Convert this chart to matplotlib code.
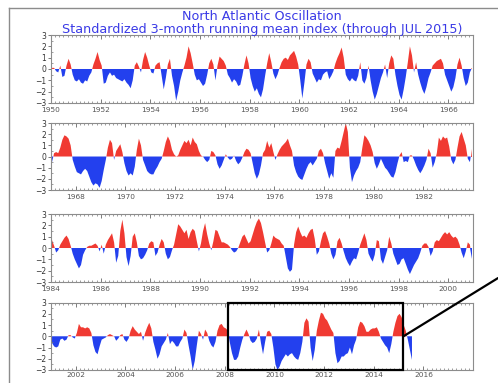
import numpy as np
import matplotlib
matplotlib.use("Agg")
import matplotlib.pyplot as plt
from matplotlib.patches import Rectangle, ConnectionPatch
from matplotlib.lines import Line2D
from matplotlib.ticker import MultipleLocator

# standardized 3-month running mean NAO index, monthly
nao_1950 = [0.1, 0.1, -0.2, -0.3, 0.3, -0.7, -0.6, 0.3, 0.9, 0.4,
            -0.5, -1.0, -1.1, -0.9, -1.2, -1.3, -1.0, -1.1, -0.6, -0.3,
            0.4, 0.9, 1.5, 0.8, 0.3, -1.3, -1.2, -0.6, -0.3, -0.6,
            -0.5, -0.8, -0.9, -1.0, -1.1, -0.9, -1.2, -1.4, -1.7, -1.0,
            0.3, 0.6, 0.2, -0.3, 0.8, 1.5, 1.0, 0.3, -0.3, -0.4,
            0.3, 0.5, 0.6, -0.6, -1.8, -0.8, 0.4, 0.9, -0.6, -1.5,
            -2.8, -2.0, -1.0, -0.3, 0.3, 1.0, 2.0, 1.4, 0.5, -0.5,
            -1.0, -0.9, -1.2, -1.5, -1.3, -0.5, 0.5, 0.9, 0.4, -1.0,
            0.3, 1.1, 0.9, 0.7, 0.3, -0.5, -0.8, -1.2, -0.9, -1.1,
            -1.5, -1.4, -0.6, 0.4, 1.2, 0.5, -0.8, -1.5, -2.0, -1.7,
            -2.2, -2.5, -1.8, -0.6, 0.5, 1.4, 0.6, -0.4, -0.9, -0.5,
            0.1, 0.6, 0.9, 1.0, 0.8, 1.2, 1.4, 1.6, 1.1, 0.4,
            -1.0, -2.6, -1.2, 0.4, 0.9, 0.6, -0.4, -0.8, -1.2, -0.9,
            -1.0, -0.5, -0.3, -0.2, -0.9, -0.6, -0.2, 0.5, 1.0, 1.4,
            1.9, 1.0, -0.5, -0.9, -1.1, -0.8, -1.0, -1.1, -0.6, 0.6,
            -1.0, -1.3, -0.8, 0.3, -1.0, -2.0, -2.7, -2.2, -1.5, -0.8,
            -0.3, 0.4, -0.8, 0.5, 1.2, 0.9, -0.5, -1.5, -2.3, -2.7,
            -1.8, -0.7, 0.6, 2.0, 1.2, -0.3, 0.6, -0.5, -1.2, -1.8,
            -2.2, -1.6, -0.8, -0.3, 0.3, 0.5, 0.7, 0.8, 0.9, 0.5,
            -0.5, -1.0, -1.5, -2.0, -1.6, -0.8, 0.4, 1.0, 0.3, -0.8,
            -1.5, -1.2, -0.3, 0.1]

nao_1967 = [-0.5, 0.3, 0.4, 0.3, 0.8, 1.5, 1.9, 1.8, 1.6, 1.0,
            -0.3, -0.9, -1.4, -1.5, -1.6, -1.3, -1.1, -1.3, -1.8, -2.3,
            -2.6, -2.4, -2.5, -2.8, -2.2, -1.2, -0.3, 0.8, 1.5, 1.2,
            -0.3, 0.5, 0.8, 1.1, 0.4, -0.6, -1.3, -1.7, -1.5, -1.7,
            -0.9, 0.6, 1.6, 1.0, -0.3, -0.8, -1.3, -1.5, -1.6, -1.6,
            -1.2, -0.9, -0.5, -0.2, 0.5, 1.3, 1.8, 1.4, 0.6, 0.2,
            0.0, 0.1, 0.6, 1.0, 1.4, 1.2, 1.5, 1.0, 1.7, 1.3,
            1.1, 0.5, 0.1, 0.0, -0.3, -0.5, -0.3, 0.5, 0.4, 0.1,
            -0.7, -1.1, -0.8, -0.3, 0.2, -0.1, -0.3, -0.2, 0.1, -0.4,
            -0.7, -0.5, -0.1, 0.4, 0.7, 0.6, 0.3, -0.6, -1.5, -2.0,
            -1.6, -0.8, 0.3, 0.6, 1.4, 0.8, 1.2, 0.4, -0.3, 0.2,
            0.6, 0.9, 1.1, 1.3, 1.6, 1.0, 0.5, -0.8, -1.4, -1.8,
            -2.0, -2.1, -1.6, -1.1, -0.7, -0.5, -0.8, -0.5, -0.2, 0.5,
            0.7, 0.3, -0.6, -1.3, -2.0, -1.5, -1.9, 0.5, 0.8, 0.7,
            1.4, 2.2, 3.0, 2.2, -1.0, -2.3, -1.7, -1.3, -1.0, -0.5,
            0.8, 1.9, 1.7, 1.4, 1.0, 0.4, -0.6, -1.1, -0.7, -0.2,
            -0.6, -1.0, -1.2, -1.5, -1.8, -1.9, -1.4, -0.6, 0.1, 0.4,
            -0.5, -0.4, -0.5, 0.1, 0.1, -0.3, -0.8, -1.2, -1.5, -1.2,
            -0.8, -0.3, 0.7, 0.3, -1.0, -0.5, 0.3, 1.7, 1.4, 1.8,
            1.6, 1.7, 0.9, -0.3, -0.7, -0.3, 0.8, 1.8, 2.2, 1.6,
            1.0, -0.2, -0.5, 0.7]

nao_1984 = [0.7, 0.2, -0.4, -0.2, 0.3, 0.6, 0.9, 1.1, 0.8, 0.2,
            -0.5, -1.0, -1.4, -1.8, -1.5, -0.6, -0.2, 0.1, 0.2, 0.2,
            0.3, 0.4, 0.2, -0.3, 0.3, -0.5, 0.3, 0.7, 1.0, 1.3,
            0.5, -1.3, -0.7, 1.5, 2.5, 1.3, -0.8, -1.6, -0.7, 1.0,
            1.3, 0.5, -0.7, -1.0, -0.9, -0.6, -0.2, 0.4, 0.6, 0.5,
            -0.7, -0.4, 0.3, 0.8, 0.5, -0.5, -1.0, -0.8, -0.2, 0.3,
            1.2, 2.1, 1.9, 1.6, 1.3, 1.6, 0.8, 1.4, 1.7, 1.5,
            0.6, -0.3, 0.4, 1.5, 2.2, 1.2, 0.4, -0.2, 0.6, 1.6,
            1.5, 1.0, 0.5, 0.5, 0.4, 0.3, 0.1, -0.2, -0.4, -0.3,
            0.0, 0.5, 1.0, 1.2, 0.8, 0.4, 0.6, 1.2, 1.8, 2.3,
            2.6, 2.2, 1.4, 0.5, -0.4, -0.2, 0.4, 1.1, 0.9, 0.8,
            0.7, 0.4, 0.2, -0.8, -1.8, -2.1, -1.9, 0.3, 1.4, 1.9,
            1.4, 1.0, 1.1, 0.9, 1.3, 1.6, 1.7, 0.8, -0.6, -0.3,
            0.6, 1.3, 1.5, 1.0, 0.4, -0.5, -1.0, -0.6, 0.6, 0.9,
            0.4, -0.3, -0.9, -1.3, -1.6, -1.2, -0.9, -1.0, -0.4, 0.3,
            0.8, 1.3, 0.7, -0.5, -0.9, -1.2, -0.6, 0.7, 0.6, -1.0,
            -1.4, -0.8, -0.2, 1.0, 0.4, -0.5, -1.0, -1.5, -1.4, -1.0,
            -0.9, -1.4, -1.9, -2.3, -1.9, -1.5, -1.2, -0.9, -0.4, 0.2,
            0.4, 0.4, 0.1, -0.7, -0.3, 0.5, 0.7, 0.6, 0.9, 1.2,
            1.4, 1.2, 1.4, 1.1, 0.9, 1.0, 0.8, 0.3, -0.4, -0.9,
            -0.3, 0.5, 0.3, -1.0]

nao_2001 = [-0.6, -0.9, -1.0, -0.9, -0.3, -0.2, -0.4, -0.3, 0.1, 0.1,
            -0.1, -0.2, 0.3, 1.1, 0.8, 0.8, 0.7, 0.8, 0.7, 0.3,
            -0.8, -1.4, -1.6, -0.9, -0.3, -0.2, -0.1, 0.1, 0.2, 0.1,
            0.0, -0.4, -0.2, 0.1, 0.2, -0.3, -0.5, -0.2, 0.5, 0.9,
            0.6, 0.4, 0.2, 0.4, -0.4, 0.3, 0.8, 1.2, 0.7, -0.5,
            -1.2, -2.0, -1.6, -0.9, -0.6, -0.3, 0.3, -0.7, -0.4, -0.6,
            -0.9, -0.9, -0.5, -0.2, 0.6, 0.3, -0.8, -1.8, -3.0, -2.2,
            -0.8, 0.5, 0.2, -0.3, 0.6, 0.3, -0.4, -0.8, -1.0, -0.5,
            0.5, 1.0, 1.1, 0.8, 0.7, 0.5, -0.6, -1.5, -2.1, -2.1,
            -1.8, -1.0, -0.3, 0.2, 0.6, 0.2, -0.4, -0.6, -0.5, -0.2,
            0.6, -0.6, -1.6, -0.5, 0.4, 0.5, 0.2, -1.0, -2.5, -3.0,
            -2.7, -2.2, -1.9, -1.6, -1.8, -1.6, -1.5, -1.8, -2.0, -2.1,
            -1.5, -0.5, 1.2, 1.6, 1.3, -1.0, -2.2, -1.2, 0.5, 1.4,
            2.1, 2.0, 1.6, 1.4, 1.0, 0.6, 0.3, -1.5, -2.4, -2.2,
            -1.8, -1.8, -1.6, -1.5, -1.0, -1.6, -0.8, -0.3, 0.8, 1.3,
            1.2, 0.9, 0.4, 0.4, 0.6, 0.7, 0.7, 0.8, 0.4, -0.2,
            -0.5, -0.8, -1.0, -1.5, -0.7, 0.4, 1.2, 1.8, 2.0, 1.7,
            1.0, 0.5, -0.3, -1.2, -2.1]

panel_starts = [1950, 1967, 1984, 2001]
panel_series = [nao_1950, nao_1967, nao_1984, nao_2001]
panel_span = 17

# highlighted period in the last panel
box_start = 2008.15
box_end = 2015.2

title1 = "North Atlantic Oscillation"
title2 = "Standardized 3-month running mean index (through JUL 2015)"

red = "#f03a32"
blue = "#2340ee"
title_col = "#3a3ae6"
frame_col = "#8c8c8c"

fig = plt.figure(figsize=(4.98, 3.83), dpi=100)

# axes rectangles in figure fraction (left, bottom, width, height)
rects = [[0.1024, 0.7311, 0.8474, 0.1775],
         [0.1024, 0.5039, 0.8474, 0.1749],
         [0.1024, 0.2637, 0.8474, 0.1775],
         [0.1024, 0.0340, 0.8474, 0.1760]]
label_pads = [3.2, 3.2, 3.2, 1.2]

axes = []
for start, vals, r, lp in zip(panel_starts, panel_series, rects, label_pads):
    ax = fig.add_axes(r)
    vals = np.array(vals)
    x = start + (np.arange(len(vals)) + 0.5) / 12.0
    ax.fill_between(x, 0, vals, where=vals >= 0, color=red, lw=0, interpolate=True)
    ax.fill_between(x, 0, vals, where=vals <= 0, color=blue, lw=0, interpolate=True)
    ax.set_xlim(start, start + panel_span)
    ax.set_ylim(-3, 3)
    ticks = [y for y in range(start, start + panel_span) if y % 2 == 0]
    ax.set_xticks(ticks)
    ax.set_xticklabels([str(t) for t in ticks])
    ax.xaxis.set_minor_locator(MultipleLocator(1 / 6.0))
    ax.set_yticks(range(-3, 4))
    ax.yaxis.set_minor_locator(MultipleLocator(0.5))
    ax.tick_params(axis="x", which="major", direction="in", length=3, width=0.6,
                   color="#666666", labelsize=5.3, labelcolor="#555555", pad=lp,
                   top=True)
    ax.tick_params(axis="x", which="minor", direction="in", length=1.5, width=0.5,
                   color="#777777", top=True)
    ax.tick_params(axis="y", which="major", direction="out", length=2.5, width=0.6,
                   color="#666666", labelsize=5.5, labelcolor="#333333", pad=1)
    ax.tick_params(axis="y", which="minor", direction="in", length=1.5, width=0.5,
                   color="#777777")
    for s in ax.spines.values():
        s.set_color(frame_col)
        s.set_linewidth(0.8)
    axes.append(ax)

ax4 = axes[3]
ax4.add_patch(Rectangle((box_start, -3), box_end - box_start, 6, fill=False,
                        ec="black", lw=1.6, clip_on=False, zorder=5))
con = ConnectionPatch(xyA=(box_end, 0), coordsA=ax4.transData,
                      xyB=(1.0, 0.274), coordsB=fig.transFigure,
                      color="black", lw=1.6, zorder=6)
fig.add_artist(con)

# outer frame of the original picture (cut at right and bottom)
fig.add_artist(Line2D([0.018, 0.018], [0.0, 0.979], color=frame_col, lw=1.0))
fig.add_artist(Line2D([0.018, 1.0], [0.979, 0.979], color=frame_col, lw=1.0))

fig.text(0.526, 0.956, title1, ha="center", va="center", color=title_col, fontsize=9.2)
fig.text(0.526, 0.924, title2, ha="center", va="center", color=title_col, fontsize=9.2)

fig.savefig("out.png", dpi=100)
